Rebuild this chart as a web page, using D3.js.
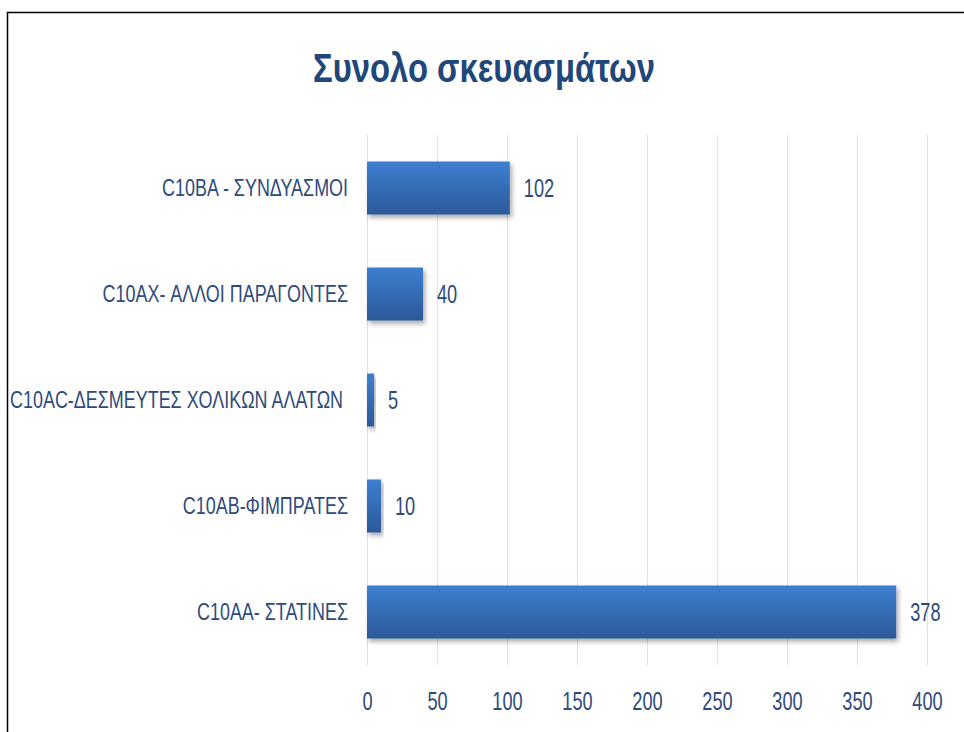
<!DOCTYPE html>
<html>
<head>
<meta charset="utf-8">
<script src="https://cdn.jsdelivr.net/npm/d3@7"></script>
<style>
  body { margin: 0; background: #fff; }
  text { font-family: "Liberation Sans", Arial, sans-serif; }
</style>
</head>
<body>
<svg id="chart" width="964" height="732"></svg>
<script>
// chart data
const categories = [
  "C10BA - ΣΥΝΔΥΑΣΜΟΙ",
  "C10AX- ΑΛΛΟΙ ΠΑΡΑΓΟΝΤΕΣ",
  "C10AC-ΔΕΣΜΕΥΤΕΣ ΧΟΛΙΚΩΝ ΑΛΑΤΩΝ ",
  "C10AB-ΦΙΜΠΡΑΤΕΣ",
  "C10AA- ΣΤΑΤΙΝΕΣ"
];
const values = [102, 40, 5, 10, 378];
const ticks = [0, 50, 100, 150, 200, 250, 300, 350, 400];
const title = "Συνολο σκευασμάτων";

const svg = d3.select("#chart");
const textColor = "#2e4b7c";
// the original font is tall and narrow, so squeeze text horizontally
const squeeze = 0.78;
const titleSqueeze = 0.82;
const numSqueeze = 0.7;

// outer frame (only top and left edges are visible)
svg.append("path")
  .attr("d", "M7.5,732 L7.5,12.5 L964,12.5")
  .attr("fill", "none")
  .attr("stroke", "#000")
  .attr("stroke-width", 1.5);

svg.append("text")
  .attr("transform", "translate(484,82) scale(" + titleSqueeze + ",1)")
  .attr("text-anchor", "middle")
  .attr("font-size", 40)
  .attr("font-weight", "bold")
  .attr("fill", "#214679")
  .text(title);

var x = d3.scaleLinear().domain([0, 400]).range([367, 927]);
var y = d3.scaleBand().domain(categories).range([135, 665]).paddingInner(0.5).paddingOuter(0.25);

var defs = svg.append("defs");
var grad = defs.append("linearGradient")
  .attr("id", "barGrad")
  .attr("x1", 0).attr("y1", 0).attr("x2", 0).attr("y2", 1);
grad.append("stop").attr("offset", "0%").attr("stop-color", "#3d7fd0");
grad.append("stop").attr("offset", "100%").attr("stop-color", "#2c5998");

var shadow = defs.append("filter").attr("id", "shadow")
  .attr("x", "-10%").attr("y", "-20%").attr("width", "130%").attr("height", "160%");
shadow.append("feDropShadow")
  .attr("dx", 2).attr("dy", 3).attr("stdDeviation", 2.5)
  .attr("flood-color", "#000").attr("flood-opacity", 0.35);

// gridlines
svg.append("g")
  .selectAll("line")
  .data(ticks)
  .enter().append("line")
  .attr("x1", d => x(d) + 0.5)
  .attr("x2", d => x(d) + 0.5)
  .attr("y1", 135)
  .attr("y2", 665)
  .attr("stroke", "#d9e3f1")
  .attr("stroke-width", 1);

// x axis tick labels
var xAxis = svg.append("g")
  .attr("transform", "translate(0,665)")
  .call(d3.axisBottom(x).tickValues(ticks).tickSize(0).tickPadding(27));
xAxis.select(".domain").remove();
xAxis.selectAll("text")
  .attr("font-size", 26)
  .attr("fill", textColor)
  .attr("transform", "scale(" + numSqueeze + ",1)");

// category labels
var yAxis = svg.append("g")
  .attr("transform", "translate(367,0)")
  .call(d3.axisLeft(y).tickSize(0).tickPadding(0));
yAxis.select(".domain").remove();
yAxis.selectAll("text")
  .attr("x", 0)
  .attr("dy", "0.33em")
  .attr("font-size", 23)
  .attr("fill", textColor)
  .style("white-space", "pre")
  .attr("transform", "translate(-19,0) scale(" + squeeze + ",1)");

// bars
svg.append("g")
  .selectAll("rect")
  .data(values)
  .enter().append("rect")
  .attr("x", x(0))
  .attr("y", (d, i) => y(categories[i]))
  .attr("width", d => x(d) - x(0))
  .attr("height", y.bandwidth())
  .attr("fill", "url(#barGrad)")
  .attr("filter", "url(#shadow)");

// value labels
svg.append("g")
  .selectAll("text")
  .data(values)
  .enter().append("text")
  .attr("transform", (d, i) => "translate(" + (x(d) + 14) + "," + (y(categories[i]) + y.bandwidth() / 2) + ") scale(" + numSqueeze + ",1)")
  .attr("dy", "0.36em")
  .attr("font-size", 26)
  .attr("fill", textColor)
  .text(d => d);
</script>
</body>
</html>
